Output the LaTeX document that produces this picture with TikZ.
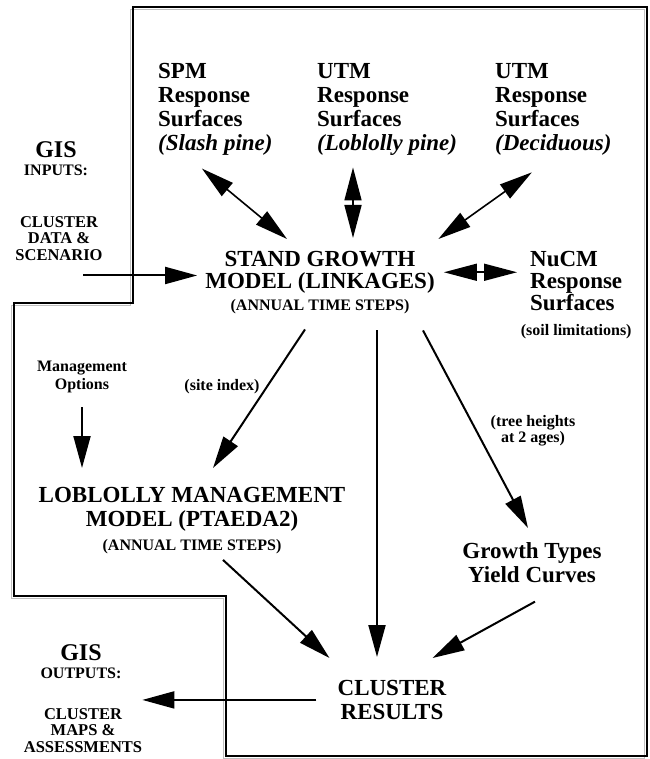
\documentclass[tikz,border=0pt]{standalone}
\usepackage{fontspec}
\setmainfont{Liberation Serif}
\usetikzlibrary{arrows.meta,positioning}

\tikzset{
  bigtxt/.style={inner sep=0pt, font=\fontsize{23}{24}\selectfont\bfseries},
  tighttxt/.style={inner sep=0pt, font=\fontsize{23}{22}\selectfont\bfseries},
  smalltxt/.style={inner sep=0pt, font=\fontsize{16}{18}\selectfont\bfseries},
  capstxt/.style={inner sep=0pt, font=\fontsize{16.5}{16.5}\selectfont\bfseries},
  arr/.style={line width=2pt, -{Triangle[length=32pt,width=17pt]}},
  dbl/.style={line width=1.6pt, {Triangle[length=33pt,width=17pt]}-{Triangle[length=33pt,width=17pt]}},
}

\begin{document}
\begin{tikzpicture}[x=1pt,y=-1pt]
  \useasboundingbox (0,0) rectangle (649,759);

  % frame round the model part
  \draw[gray!50, line width=1.6pt, shift={(-2.5,2.5)}] (133,7) -- (647,7) -- (647,756) -- (226,756)
       -- (226,596) -- (14,596) -- (14,303) -- (133,303) -- cycle;
  \draw[line width=1.2pt] (133,7) -- (647,7) -- (647,756) -- (226,756)
       -- (226,596) -- (14,596) -- (14,303) -- (133,303) -- cycle;

  % response surfaces
  \node[bigtxt, align=left, anchor=north west] (spm) at (158,63) {SPM\\Response\\Surfaces\\\textit{(Slash pine)}};
  \node[bigtxt, align=left, anchor=north west] (utmlob) at (317,63) {UTM\\Response\\Surfaces\\\textit{(Loblolly pine)}};
  \node[bigtxt, align=left, anchor=north west] (utmdec) at (495,63) {UTM\\Response\\Surfaces\\\textit{(Deciduous)}};

  % inputs
  \node[smalltxt, align=center, anchor=north] (gisin) at (56,141) {{\fontsize{24}{24}\selectfont GIS}\\INPUTS:};
  \node[capstxt, align=center, anchor=north] (datain) at (59,216) {CLUSTER\\DATA \&\\SCENARIO};

  % models
  \node[tighttxt, align=center, anchor=north] (stand) at (320,251) {STAND GROWTH\\MODEL (LINKAGES)};
  \node[smalltxt, below=6pt of stand] (standsteps) {(ANNUAL TIME STEPS)};
  \node[tighttxt, align=left, anchor=north west] (nucm) at (530,251) {NuCM\\Response\\Surfaces};
  \node[smalltxt, below=13pt of nucm] (soil) {(soil limitations)};

  \node[smalltxt, align=center, anchor=north] (mgmt) at (82,361) {Management\\Options};
  \node[smalltxt, anchor=north] (siteidx) at (222,379) {(site index)};
  \node[bigtxt, align=center, anchor=north] (lob) at (192,487) {LOBLOLLY MANAGEMENT\\MODEL (PTAEDA2)};
  \node[smalltxt, below=8pt of lob] (lobsteps) {(ANNUAL TIME STEPS)};

  \node[smalltxt, align=center, anchor=north] (treeht) at (533,415) {(tree heights\\[-2pt] at 2 ages)};
  \node[bigtxt, align=center, anchor=north] (growth) at (532,542) {Growth Types\\Yield Curves};

  % outputs
  \node[bigtxt, align=center, anchor=north] (results) at (392,680) {CLUSTER\\RESULTS};
  \node[smalltxt, align=center, anchor=north] (gisout) at (81,644) {{\fontsize{24}{24}\selectfont GIS}\\OUTPUTS:};
  \node[capstxt, align=center, anchor=north] (maps) at (83,708) {CLUSTER\\MAPS \&\\ASSESSMENTS};

  % two-way links
  \coordinate (loblow) at ([xshift=33pt,yshift=13pt]stand.north);
  \draw[dbl] ([xshift=-13.5pt,yshift=-13pt]spm.south) -- ([xshift=-33pt,yshift=12pt]stand.north);
  \draw[dbl, shorten <=12pt] (loblow |- utmlob.south) -- (loblow);
  \draw[dbl] ([xshift=-21.5pt,yshift=-17pt]utmdec.south) -- ([xshift=3.5pt,yshift=12pt]stand.north east);
  \draw[dbl, shorten <=9pt, shorten >=13pt] (stand.east) -- (stand.east -| nucm.west);

  % one-way links
  \coordinate (datatail) at ([xshift=24pt,yshift=-15pt]datain.south);
  \draw[arr, shorten >=8pt] (datatail) -- (datatail -| stand.west);
  \draw[arr, shorten <=14pt, shorten >=19pt] (mgmt.south) -- (mgmt.south |- lob.north);
  \draw[arr] ([xshift=-15pt,yshift=-15pt]standsteps.south) -- ([xshift=21pt,yshift=19pt]lob.north);
  \coordinate (mainstem) at ([xshift=57pt,yshift=-16pt]standsteps.south);
  \draw[arr, shorten >=23pt] (mainstem) -- (mainstem |- results.north);
  \draw[arr] ([xshift=103pt,yshift=-16pt]standsteps.south) -- ([xshift=-4pt,yshift=14pt]growth.north);
  \draw[arr] ([xshift=31pt,yshift=-5.5pt]lobsteps.south) -- ([xshift=-8pt,yshift=22pt]results.north west);
  \draw[arr] ([xshift=3pt,yshift=-19pt]growth.south) -- ([xshift=-14pt,yshift=22pt]results.north east);
  \draw[arr, shorten <=21pt] (results.west) -- (results.west -| maps.east);
\end{tikzpicture}
\end{document}
